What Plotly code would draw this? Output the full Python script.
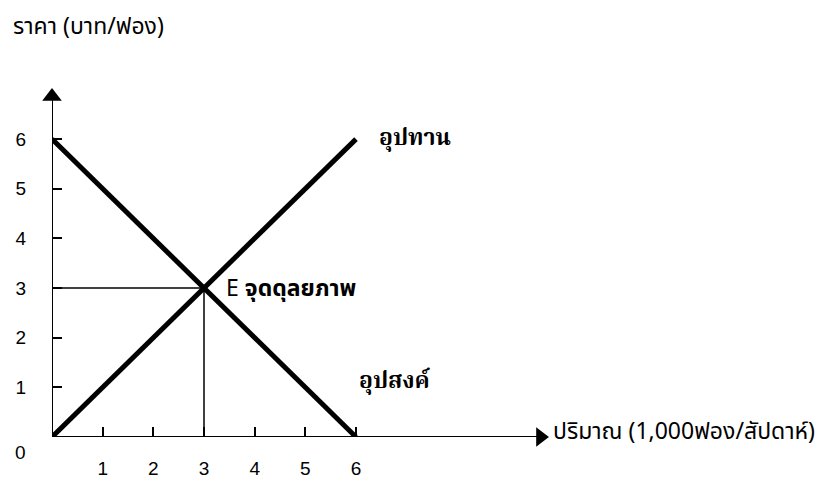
import plotly.graph_objects as go

# supply / demand schedules (price in baht per egg, quantity in 1,000 eggs/week)
quantity = [0, 1, 2, 3, 4, 5, 6]
supply_price = [0, 1, 2, 3, 4, 5, 6]
demand_price = [6, 5, 4, 3, 2, 1, 0]
eq_q, eq_p = 3, 3

x_ticks = [1, 2, 3, 4, 5, 6]
y_ticks = [1, 2, 3, 4, 5, 6]

THAI = "Leelawadee UI, Tahoma, Noto Sans Thai, Loma, Garuda, sans-serif"
THAI_SERIF = "Angsana New, Noto Serif Thai, Norasi, Noto Sans Thai, serif"
DIGITS = "Liberation Sans, Arial, sans-serif"

fig = go.Figure()

# axes with arrow heads
fig.add_trace(go.Scatter(x=[0, 0], y=[0, 6.85], mode="lines",
                         line=dict(color="black", width=2), hoverinfo="skip",
                         cliponaxis=False))
fig.add_trace(go.Scatter(x=[0, 9.6], y=[0, 0], mode="lines",
                         line=dict(color="black", width=2), hoverinfo="skip",
                         cliponaxis=False))
fig.add_trace(go.Scatter(x=[0], y=[6.86], mode="markers",
                         marker=dict(symbol="triangle-up", size=17, color="black"),
                         hoverinfo="skip", cliponaxis=False))
fig.add_trace(go.Scatter(x=[9.64], y=[0], mode="markers",
                         marker=dict(symbol="triangle-right", size=17, color="black"),
                         hoverinfo="skip", cliponaxis=False))

# equilibrium guide lines
fig.add_trace(go.Scatter(x=[0, eq_q], y=[eq_p, eq_p], mode="lines",
                         line=dict(color="black", width=1.5), hoverinfo="skip"))
fig.add_trace(go.Scatter(x=[eq_q, eq_q], y=[0, eq_p], mode="lines",
                         line=dict(color="black", width=1.5), hoverinfo="skip"))

# supply and demand
fig.add_trace(go.Scatter(x=quantity, y=supply_price, mode="lines",
                         line=dict(color="black", width=5), cliponaxis=False))
fig.add_trace(go.Scatter(x=quantity, y=demand_price, mode="lines",
                         line=dict(color="black", width=5), cliponaxis=False))

fig.update_layout(
    width=835,
    height=488,
    plot_bgcolor="white",
    paper_bgcolor="white",
    showlegend=False,
    # the page body adds 8px, so the figure is nudged up and left by that much
    margin=dict(l=44, r=31, t=2, b=59),
    font=dict(family=THAI, size=22, color="black"),
)
fig.update_xaxes(
    range=[0, 15],
    automargin=False,
    showgrid=False,
    zeroline=False,
    showline=False,
    tickvals=x_ticks,
    ticks="inside",
    ticklen=10,
    tickwidth=1.5,
    tickcolor="black",
    ticklabelstandoff=18,
    tickfont=dict(family=DIGITS, size=19),
)
fig.update_yaxes(
    range=[0, 8.6],
    automargin=False,
    showgrid=False,
    zeroline=False,
    showline=False,
    tickvals=y_ticks,
    ticks="inside",
    ticklen=10,
    tickwidth=1.5,
    tickcolor="black",
    ticklabelstandoff=25,
    tickfont=dict(family=DIGITS, size=19),
)

fig.add_annotation(x=0, y=0, text="0", showarrow=False, xanchor="right",
                   xshift=-24, yshift=-15, font=dict(family=DIGITS, size=19))
fig.add_annotation(x=-0.054, y=0.96, xref="paper", yref="paper",
                   text="ราคา (บาท/ฟอง)", showarrow=False, xanchor="left",
                   yanchor="middle", font=dict(family=THAI, size=23))
fig.add_annotation(x=9.84, y=0.1, text="ปริมาณ (1,000ฟอง/สัปดาห์)", showarrow=False,
                   xanchor="left", font=dict(family=THAI, size=23))
fig.add_annotation(x=6.42, y=6.0, text="<b>อุปทาน</b>", showarrow=False,
                   xanchor="left", font=dict(family=THAI_SERIF, size=23))
fig.add_annotation(x=6.02, y=1.1, text="<b>อุปสงค์</b>", showarrow=False,
                   xanchor="left", font=dict(family=THAI_SERIF, size=23))
fig.add_annotation(x=3.4, y=2.98, text="E <b>จุดดุลยภาพ</b>", showarrow=False,
                   xanchor="left", font=dict(family=THAI, size=23))

fig.write_html("out.html")
